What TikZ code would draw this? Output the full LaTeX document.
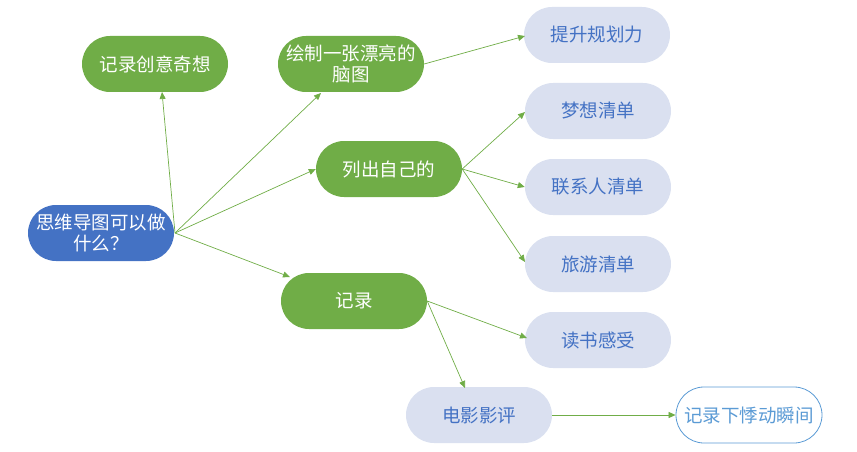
\documentclass[tikz,border=0pt]{standalone}
\usepackage{fontspec}
\newfontfamily\cjk{Noto Sans CJK SC}
\usetikzlibrary{arrows.meta,shapes.misc}
\definecolor{gr}{HTML}{70AD47}
\definecolor{bl}{HTML}{4472C4}
\definecolor{lv}{HTML}{DAE0F0}
\definecolor{lb}{HTML}{5B9BD5}
\begin{document}
\begin{tikzpicture}[x=1pt,y=-1pt,
  base/.style={rounded rectangle,minimum width=146pt,minimum height=56pt,inner sep=0pt,align=center,font=\cjk\fontsize{18.5}{21}\selectfont},
  root/.style={base,fill=bl,text=white},
  grn/.style={base,fill=gr,text=white},
  lav/.style={base,fill=lv,text=bl},
  outl/.style={base,draw=lb,fill=white,text=lb,line width=0.8pt},
  conn/.style={draw=gr,line width=0.7pt,-{Triangle[length=7pt,width=6pt]}}]
\useasboundingbox (0,0) rectangle (857,452);
\node[root] (r) at (101,233) {思维导图可以做\\什么？};
\node[grn] (a) at (155,64) {记录创意奇想};
\node[grn] (b) at (351,64) {绘制一张漂亮的\\脑图};
\node[grn] (c) at (389,169) {列出自己的};
\node[grn] (d) at (354,301) {记录};
\node[lav] (e) at (597,35) {提升规划力};
\node[lav] (f) at (598,111) {梦想清单};
\node[lav] (g) at (598,187) {联系人清单};
\node[lav] (h) at (598,264) {旅游清单};
\node[lav] (i) at (598,340) {读书感受};
\node[lav] (j) at (479,415) {电影影评};
\node[outl] (k) at (749,415) {记录下悸动瞬间};
\coordinate (rs) at (175,233);
\draw[conn] (rs) -- (162,92);
\draw[conn] (rs) -- (321,93);
\draw[conn] (rs) -- (c.west);
\draw[conn] (rs) -- (290,277);
\draw[conn] (b.east) -- (525,36);
\draw[conn] (c.east) -- (525,112);
\draw[conn] (c.east) -- (g.west);
\draw[conn] (c.east) -- (525,262);
\draw[conn] (d.east) -- (527,338);
\draw[conn] (d.east) -- (465,388);
\draw[conn] (j.east) -- (k.west);
\end{tikzpicture}
\end{document}
